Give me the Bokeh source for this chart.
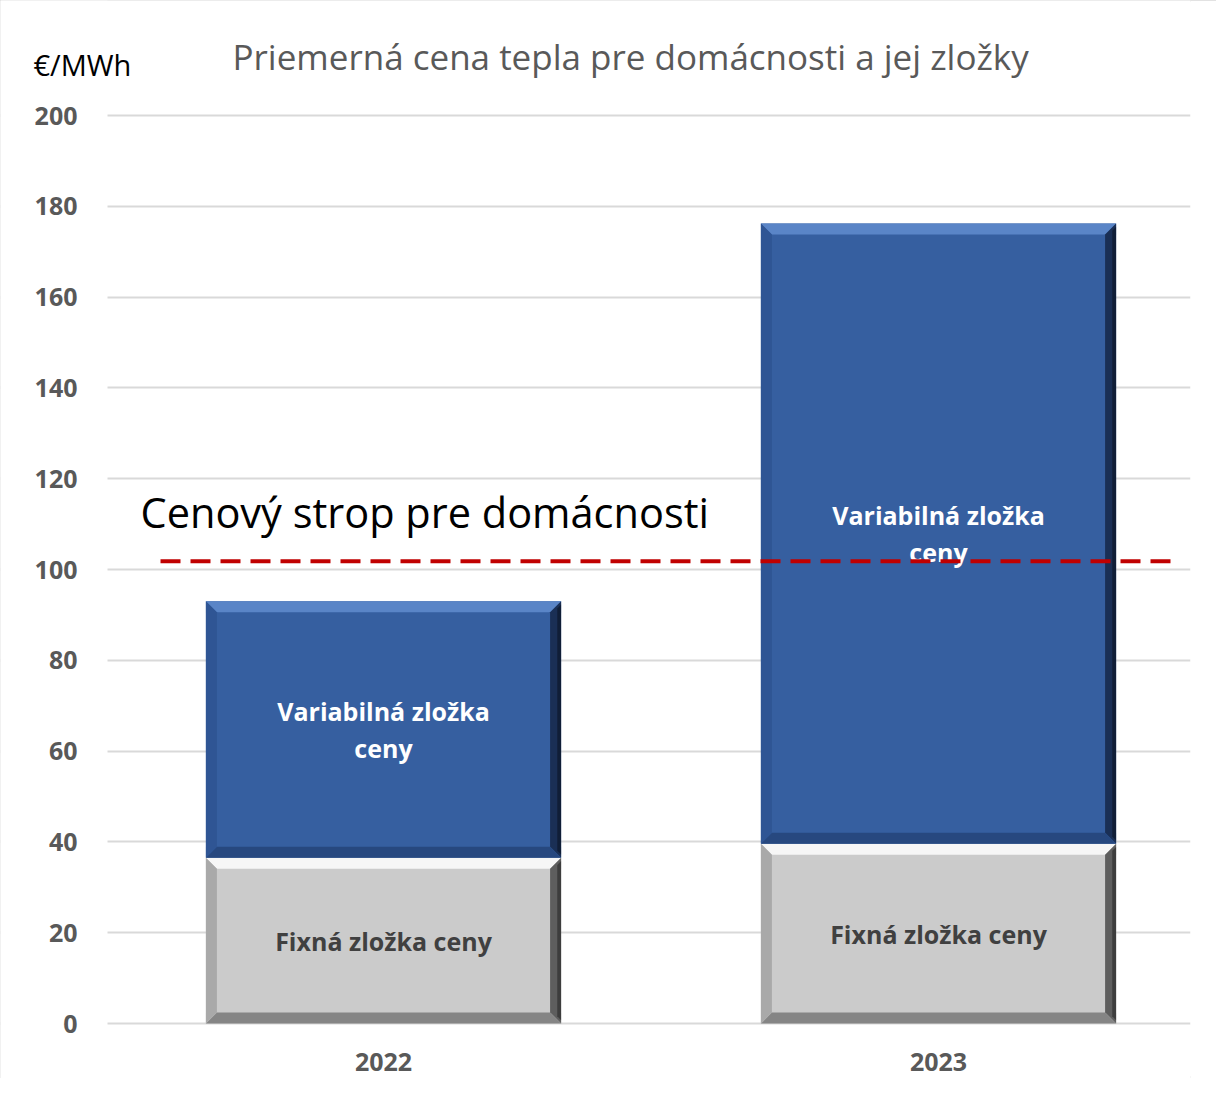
from bokeh.plotting import figure
from bokeh.models import Range1d, FixedTicker, Label, ColumnDataSource
from bokeh.core.properties import value
from bokeh.embed import file_html
from bokeh.resources import INLINE

# ---- data ----
years = ["2022", "2023"]
fixed_part = [36.5, 39.6]
variable_part = [56.5, 136.6]
price_cap = 101.8
y_ticks = [0, 20, 40, 60, 80, 100, 120, 140, 160, 180, 200]
title_text = "Priemerná cena tepla pre domácnosti a jej zložky"
unit_text = "€/MWh"
cap_text = "Cenový strop pre domácnosti"
fixed_label = "Fixná zložka ceny"
variable_label = "Variabilná zložka\nceny"

FONT = "Open Sans"
W, H = 1216, 1078
BR = 26                               # right border
frame_w = W - BR
px_x = 555.0                          # pixels per category step
px_y = 4.54                           # pixels per €/MWh
ZERO_PX = 1023                        # page row of value 0
X0 = -383.0 / px_x                    # frame starts at page left
X1 = X0 + frame_w / px_x
Y1 = ZERO_PX / px_y
Y0 = -(H - ZERO_PX) / px_y
AXIS_X = X0 + 107 / px_x              # where the value axis sits

p = figure(width=W, height=H, output_backend="svg", toolbar_location=None,
           x_range=Range1d(X0, X1), y_range=Range1d(Y0, Y1),
           min_border_left=0, min_border_right=BR,
           min_border_top=0, min_border_bottom=0)
p.styles = {"outline": "2px solid #d9d9d9", "outline-offset": "-2px"}
p.outline_line_color = None
p.background_fill_color = "white"
p.border_fill_color = "white"

# gridlines
p.xgrid.grid_line_color = None
p.ygrid.ticker = FixedTicker(ticks=y_ticks)
p.ygrid.grid_line_color = "#D9D9D9"
p.ygrid.grid_line_width = 2
# blank strip left of the value axis (gridlines start at the axis)
p.quad(left=[X0], right=[AXIS_X], bottom=[Y0], top=[Y1], fill_color="white", line_color=None)

xs = list(range(len(years)))
hw = 0.32
totals = [f + v for f, v in zip(fixed_part, variable_part)]

segments = []
for i, x in enumerate(xs):
    segments.append((x, 0, fixed_part[i], "gray"))
    segments.append((x, fixed_part[i], totals[i], "blue"))

palette = {
    "blue": dict(base="#365FA0", top="#5A85C7", right="#1A2F55", bottom="#27487F", left="#2F5594"),
    "gray": dict(base="#CBCBCB", top="#F6F6F6", right="#5E5E5E", bottom="#858585", left="#A9A9A9"),
}

d = 11
dx, dy = d / px_x, d / px_y
for (x, b, t, kind) in segments:
    c = palette[kind]
    l, r = x - hw, x + hw
    p.quad(left=[l], right=[r], bottom=[b], top=[t], fill_color=c["base"], line_color=None)
    pxs = [
        [l, r, r - dx, l + dx],
        [r, r, r - dx, r - dx],
        [l, r, r - dx, l + dx],
        [l, l, l + dx, l + dx],
    ]
    pys = [
        [t, t, t - dy, t - dy],
        [t, b, b + dy, t - dy],
        [b, b, b + dy, b + dy],
        [t, b, b + dy, t - dy],
    ]
    cols = [c["top"], c["right"], c["bottom"], c["left"]]
    p.patches(xs=pxs, ys=pys, fill_color=cols, line_color=None)
    p.patches(xs=[[r, r, r - dx * 0.35, r - dx * 0.35]],
              ys=[[t - dy * 0.3, b + dy * 0.3, b + dy * 0.65, t - dy * 0.65]],
              fill_color="#000000", fill_alpha=0.35, line_color=None)

# segment labels
lab = ColumnDataSource(dict(
    x=xs + xs,
    y=[f / 2 for f in fixed_part] + [f + v / 2 for f, v in zip(fixed_part, variable_part)],
    text=[fixed_label] * len(xs) + [variable_label] * len(xs),
    color=["#404040"] * len(xs) + ["#FFFFFF"] * len(xs),
))
p.text(x="x", y="y", text="text", source=lab, text_color="color",
       text_font=value(FONT), text_font_style="bold", text_font_size="25px",
       text_align="center", text_baseline="middle", text_line_height=1.1)

# price cap line
p.segment(x0=[AXIS_X + 53 / px_x], x1=[X1 - 10 / px_x], y0=[price_cap], y1=[price_cap],
          line_color="#C00000", line_width=4, line_dash="20 10")
p.add_layout(Label(x=AXIS_X + 33 / px_x, y=112.6, text=cap_text, text_font=FONT,
                   text_font_size="41.5px", text_color="#000000", text_baseline="middle"))

# title and unit
p.add_layout(Label(x=AXIS_X + 125 / px_x, y=213.0, text=title_text, text_font=FONT,
                   text_font_size="35px", text_color="#595959", text_baseline="middle"))
p.add_layout(Label(x=AXIS_X - 74 / px_x, y=211.2, text=unit_text, text_font=FONT,
                   text_font_size="29px", text_color="#000000", text_baseline="middle"))

# axes
p.yaxis.fixed_location = AXIS_X
p.xaxis.fixed_location = 0
p.yaxis.ticker = FixedTicker(ticks=y_ticks)
p.xaxis.ticker = FixedTicker(ticks=xs)
p.xaxis.major_label_overrides = {i: y for i, y in enumerate(years)}
for ax in (p.xaxis, p.yaxis):
    ax.axis_line_color = None
    ax.major_tick_line_color = None
    ax.minor_tick_line_color = None
    ax.major_label_text_font = FONT
    ax.major_label_text_font_style = "bold"
    ax.major_label_text_font_size = "25px"
    ax.major_label_text_color = "#595959"
p.yaxis.major_label_standoff = 24
p.xaxis.major_label_standoff = 23

open("out.html", "w").write(file_html(p, INLINE))
